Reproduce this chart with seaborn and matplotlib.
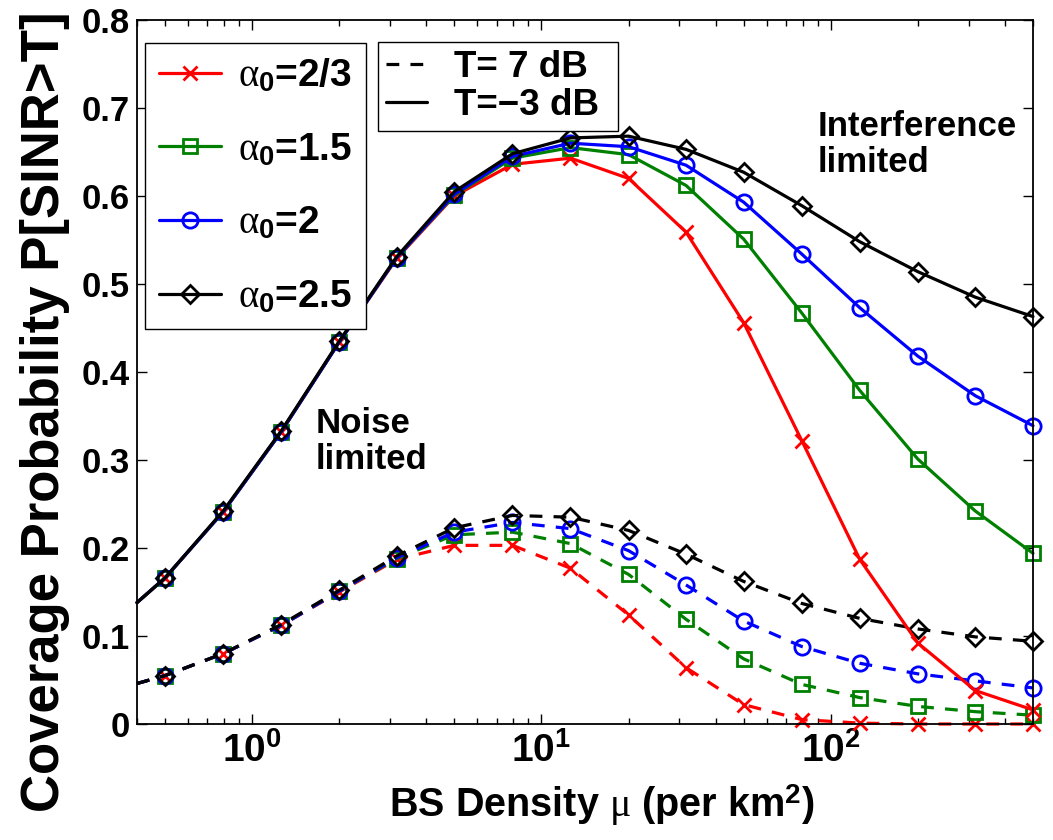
import numpy as np
import pandas as pd
import seaborn as sns
import matplotlib.pyplot as plt
from matplotlib.lines import Line2D
from matplotlib.ticker import FuncFormatter, FixedLocator, LogLocator, NullFormatter

# BS density (per km^2); first value is where the curves meet the left edge
density = [0.4, 0.5, 0.794, 1.26, 2.0, 3.16, 5.0, 7.94, 12.6, 20.0, 31.6, 50.0, 79.4, 126, 200, 316, 500]

alpha_labels = [r'$\alpha_{\mathsf{0}}$=2/3', r'$\alpha_{\mathsf{0}}$=1.5',
                r'$\alpha_{\mathsf{0}}$=2', r'$\alpha_{\mathsf{0}}$=2.5']

# T = -3 dB (solid)
cov_m3_a23 = [0.138, 0.166, 0.241, 0.332, 0.434, 0.529, 0.600, 0.636, 0.643, 0.620, 0.559, 0.456, 0.322, 0.187, 0.092, 0.038, 0.016]
cov_m3_a15 = [0.138, 0.166, 0.241, 0.332, 0.434, 0.530, 0.601, 0.643, 0.655, 0.647, 0.612, 0.551, 0.467, 0.379, 0.301, 0.242, 0.194]
cov_m3_a2 = [0.138, 0.166, 0.241, 0.332, 0.434, 0.530, 0.602, 0.645, 0.660, 0.656, 0.635, 0.593, 0.534, 0.473, 0.418, 0.373, 0.339]
cov_m3_a25 = [0.138, 0.166, 0.242, 0.333, 0.435, 0.531, 0.605, 0.648, 0.666, 0.668, 0.653, 0.627, 0.589, 0.548, 0.514, 0.485, 0.463]

# T = 7 dB (dashed)
cov_7_a23 = [0.046, 0.055, 0.080, 0.112, 0.150, 0.187, 0.203, 0.203, 0.177, 0.124, 0.064, 0.022, 0.005, 0.001, 0.0, 0.0, 0.0]
cov_7_a15 = [0.046, 0.055, 0.080, 0.112, 0.151, 0.188, 0.215, 0.218, 0.205, 0.170, 0.119, 0.074, 0.045, 0.030, 0.020, 0.014, 0.010]
cov_7_a2 = [0.046, 0.055, 0.080, 0.112, 0.151, 0.189, 0.218, 0.229, 0.222, 0.197, 0.158, 0.117, 0.088, 0.069, 0.057, 0.049, 0.041]
cov_7_a25 = [0.046, 0.055, 0.080, 0.113, 0.152, 0.191, 0.223, 0.237, 0.235, 0.220, 0.193, 0.162, 0.137, 0.120, 0.108, 0.099, 0.094]

solid_sets = [cov_m3_a23, cov_m3_a15, cov_m3_a2, cov_m3_a25]
dashed_sets = [cov_7_a23, cov_7_a15, cov_7_a2, cov_7_a25]

colors = ['#ff0000', '#008000', '#0000ff', '#000000']
markers = ['x', 's', 'o', 'D']
msizes = [10, 9.5, 11, 9]

sns.set_style("ticks")
plt.rcParams['font.family'] = ['Liberation Sans', 'DejaVu Sans']
plt.rcParams['font.weight'] = 'bold'
plt.rcParams['text.color'] = 'black'
plt.rcParams['axes.labelcolor'] = 'black'
plt.rcParams['xtick.color'] = 'black'
plt.rcParams['ytick.color'] = 'black'
# Greek letters in a thin serif face, digits in bold sans (like the original)
plt.rcParams['mathtext.fontset'] = 'custom'
plt.rcParams['mathtext.rm'] = 'Liberation Serif:normal'
plt.rcParams['mathtext.it'] = 'Liberation Serif:normal'
plt.rcParams['mathtext.sf'] = 'Liberation Sans:bold'
plt.rcParams['mathtext.bf'] = 'Liberation Sans:bold'

W, H = 1053, 840
fig = plt.figure(figsize=(W / 100, H / 100), dpi=100)
ax = fig.add_axes([137 / W, 116 / H, (1033 - 137) / W, (724 - 20) / H])

dash = (0, (4, 3.5))
for ys, c, m, ms in zip(dashed_sets, colors, markers, msizes):
    sns.lineplot(x=density, y=ys, ax=ax, color=c, linestyle=dash, lw=2.3,
                 marker=m, markersize=ms, markeredgecolor=c, markerfacecolor='none',
                 markeredgewidth=2, markevery=slice(1, None), clip_on=False,
                 sort=False, estimator=None)
for ys, c, m, ms in zip(solid_sets, colors, markers, msizes):
    sns.lineplot(x=density, y=ys, ax=ax, color=c, linestyle='-', lw=2.3,
                 marker=m, markersize=ms, markeredgecolor=c, markerfacecolor='none',
                 markeredgewidth=2, markevery=slice(1, None), clip_on=False,
                 sort=False, estimator=None)

ax.set_xscale('log')
ax.set_xlim(0.4, 500)
ax.set_ylim(0, 0.8)
ax.set_yticks(np.arange(0, 0.81, 0.1))
ax.yaxis.set_major_formatter(FuncFormatter(lambda v, _: '0' if abs(v) < 1e-9 else f'{v:.1f}'))
ax.xaxis.set_major_locator(FixedLocator([1, 10, 100]))
ax.xaxis.set_major_formatter(FuncFormatter(lambda v, _: r'$\mathsf{10^{%d}}$' % round(np.log10(v))))
ax.xaxis.set_minor_locator(LogLocator(base=10, subs=np.arange(2, 10)))
ax.xaxis.set_minor_formatter(NullFormatter())
ax.set_xlabel('')
ax.set_ylabel('')

ax.tick_params(which='both', direction='in', top=True, right=True, width=1, color='black')
ax.tick_params(which='major', length=7)
ax.tick_params(which='minor', length=4)
ax.tick_params(axis='y', labelsize=25, pad=5)
ax.tick_params(axis='x', labelsize=28, pad=6)
for sp in ax.spines.values():
    sp.set_linewidth(1.3)
    sp.set_color('black')

fig.text(45 / W, 1 - 412 / H, 'Coverage Probability P[SINR>T]', rotation=90,
         fontsize=38, ha='center', va='center', fontweight='bold')
fig.text(602 / W, 1 - 805 / H, r'BS Density $\mu$ (per km$^{\mathsf{2}}$)',
         fontsize=28.5, ha='center', va='center', fontweight='bold')

fig.text(818 / W, 1 - 110 / H, 'Interference\nlimited', fontsize=25,
         ha='left', va='top', linespacing=1.1, fontweight='bold')
fig.text(316 / W, 1 - 407 / H, 'Noise\nlimited', fontsize=25,
         ha='left', va='top', linespacing=1.1, fontweight='bold')

handles1 = [Line2D([], [], color=c, lw=2.3, marker=m, markersize=ms, markeredgecolor=c,
                   markerfacecolor='none', markeredgewidth=2)
            for c, m, ms in zip(colors, markers, msizes)]
leg1 = ax.legend(handles1, alpha_labels, loc='upper left',
                 bbox_to_anchor=(145 / W, 1 - 43 / H), bbox_transform=fig.transFigure,
                 fontsize=28, frameon=True, fancybox=False, edgecolor='black', framealpha=1,
                 handlelength=1.6, handletextpad=0.45, labelspacing=0.95, borderpad=0.35,
                 borderaxespad=0)
leg1.get_frame().set_linewidth(1)
ax.add_artist(leg1)

handles2 = [Line2D([], [], color='black', lw=2.3, linestyle=dash),
            Line2D([], [], color='black', lw=2.3, linestyle='-')]
leg2 = ax.legend(handles2, ['T= 7 dB', 'T=\u22123 dB '], loc='upper left',
                 bbox_to_anchor=(378 / W, 1 - 42 / H), bbox_transform=fig.transFigure,
                 fontsize=26.5, frameon=True, fancybox=False, edgecolor='black', framealpha=1,
                 handlelength=1.1, handletextpad=0.75, labelspacing=0.08, borderpad=0.22,
                 borderaxespad=0)
leg2.get_frame().set_linewidth(1)

fig.savefig('out.png', dpi=100, facecolor='white')
